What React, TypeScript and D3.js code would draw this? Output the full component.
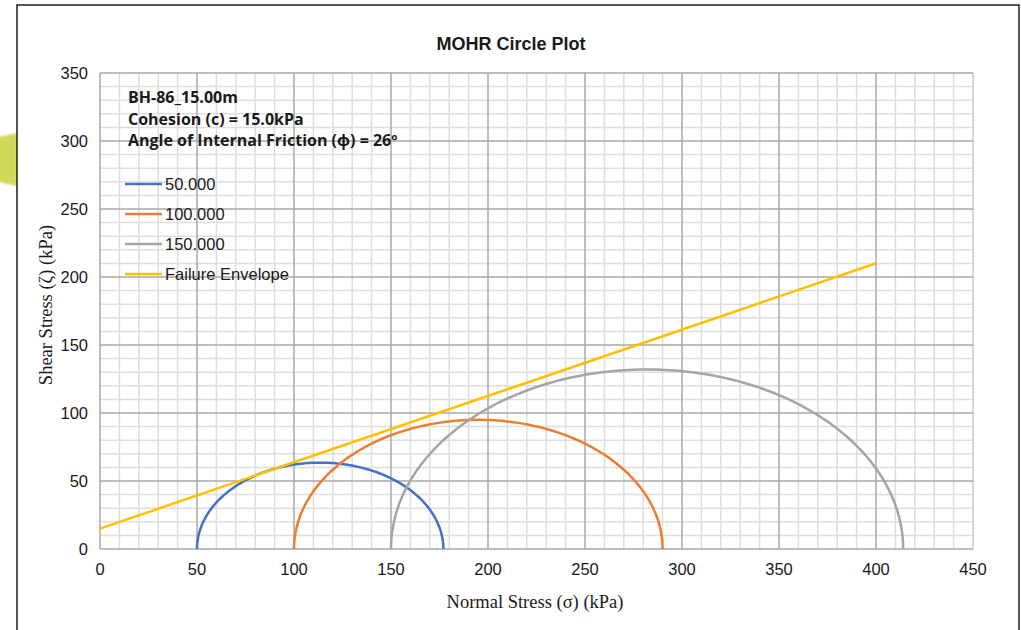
import { useMemo } from 'react';
import * as d3 from 'd3';

// Mohr circles (kPa)
const seriesNames = ['50.000', '100.000', '150.000'];
const sigma3 = [50, 100, 150];
const sigma1 = [177, 290, 414];
const seriesColors = ['#4472c4', '#ed7d31', '#a5a5a5'];

// Failure envelope
const cohesion = 15.0;
const phiDeg = 26;
const envelopeX = [0, 400];
const envelopeColor = '#ffc000';

const xTicks = [0, 50, 100, 150, 200, 250, 300, 350, 400, 450];
const yTicks = [0, 50, 100, 150, 200, 250, 300, 350];

const infoLines = ['BH-86_15.00m', 'Cohesion (c) = 15.0kPa', 'Angle of Internal Friction (ϕ) = 26º'];

const W = 1021;
const H = 630;
const margin = { left: 100, right: 48, top: 73, bottom: 81 };

export default function App() {
  const x = d3.scaleLinear().domain([0, 450]).range([margin.left, W - margin.right]);
  const y = d3.scaleLinear().domain([0, 350]).range([H - margin.bottom, margin.top]);

  const minorX = d3.range(0, 451, 10).filter(v => v % 50 !== 0);
  const minorY = d3.range(0, 351, 10).filter(v => v % 50 !== 0);

  const line = d3.line<[number, number]>().x(d => x(d[0])).y(d => y(d[1]));

  const circles = useMemo(() => sigma3.map((s3, i) => {
    const c = (s3 + sigma1[i]) / 2;
    const r = (sigma1[i] - s3) / 2;
    const pts: [number, number][] = d3.range(0, 181).map(a => {
      const t = Math.PI - (a * Math.PI) / 180;
      return [c + r * Math.cos(t), r * Math.sin(t)];
    });
    return pts;
  }), []);

  const tanPhi = Math.tan((phiDeg * Math.PI) / 180);
  const envelope: [number, number][] = envelopeX.map(v => [v, cohesion + v * tanPhi]);

  const sans = '"Liberation Sans", Arial, sans-serif';
  const serif = '"Liberation Serif", "Times New Roman", serif';

  return (
    <svg width={W} height={H} style={{ position: 'absolute', left: 0, top: 0, background: '#fff' }}>
      <defs>
        <filter id="blur" x="-50%" y="-50%" width="200%" height="200%">
          <feGaussianBlur stdDeviation="1.3" />
        </filter>
      </defs>
      {/* highlighter smudge on left edge */}
      <path d="M-6,138 L17,133 L17,186 L-6,181 Z" fill="#d4d85a" filter="url(#blur)" />

      {/* outer frame */}
      <path d={`M17,${H + 5} L17,5 L1019,5 L1019,${H + 5}`} fill="none" stroke="#1e1e1e" strokeWidth={1.5} />

      {/* minor grid */}
      <g stroke="#dedede" strokeWidth={1.5}>
        {minorX.map(v => <line key={`mx${v}`} x1={x(v)} x2={x(v)} y1={y(0)} y2={y(350)} />)}
        {minorY.map(v => <line key={`my${v}`} x1={x(0)} x2={x(450)} y1={y(v)} y2={y(v)} />)}
      </g>
      {/* major grid */}
      <g stroke="#a8a8a8" strokeWidth={1.5}>
        {xTicks.map(v => <line key={`Mx${v}`} x1={x(v)} x2={x(v)} y1={y(0)} y2={y(350)} stroke={v === 450 ? '#c8c8c8' : '#a8a8a8'} />)}
        {yTicks.map(v => <line key={`My${v}`} x1={x(0)} x2={x(450)} y1={y(v)} y2={y(v)} />)}
      </g>

      {/* tick labels */}
      <g fontFamily={sans} fontSize={16.5} fill="#1a1a1a">
        {yTicks.map(v => (
          <text key={`yl${v}`} x={x(0) - 12} y={y(v)} textAnchor="end" dominantBaseline="central">{v}</text>
        ))}
        {xTicks.map(v => (
          <text key={`xl${v}`} x={x(v)} y={575} textAnchor="middle">{v}</text>
        ))}
      </g>

      {/* circles */}
      {circles.map((pts, i) => (
        <path key={seriesNames[i]} d={line(pts) || ''} fill="none" stroke={seriesColors[i]} strokeWidth={2.5} />
      ))}
      {/* failure envelope */}
      <path d={line(envelope) || ''} fill="none" stroke={envelopeColor} strokeWidth={2.5} />

      {/* title */}
      <text x={511} y={50} textAnchor="middle" fontFamily={sans} fontWeight="bold" fontSize={18} fill="#1a1a1a">MOHR Circle Plot</text>

      {/* axis titles */}
      <text x={535} y={608} textAnchor="middle" fontFamily={serif} fontSize={18.5} fill="#1a1a1a">Normal Stress (σ) (kPa)</text>
      <text transform="translate(52,305) rotate(-90)" textAnchor="middle" fontFamily={serif} fontSize={18.5} fill="#1a1a1a">Shear Stress (ζ) (kPa)</text>

      {/* info block */}
      <g fontFamily='"Open Sans", "Noto Sans", sans-serif' fontWeight="bold" fontSize={16} fill="#1a1a1a">
        {infoLines.map((t, i) => (
          <text key={t} x={128} y={103 + i * 21.5}>{t}</text>
        ))}
      </g>

      {/* legend */}
      <g fontFamily={sans} fontSize={16.5} fill="#1a1a1a">
        {[...seriesNames, 'Failure Envelope'].map((name, i) => {
          const color = i < 3 ? seriesColors[i] : envelopeColor;
          const ly = 184 + i * 30;
          return (
            <g key={name}>
              <line x1={125} x2={162} y1={ly} y2={ly} stroke={color} strokeWidth={2.5} />
              <text x={165} y={ly + 6}>{name}</text>
            </g>
          );
        })}
      </g>
    </svg>
  );
}
